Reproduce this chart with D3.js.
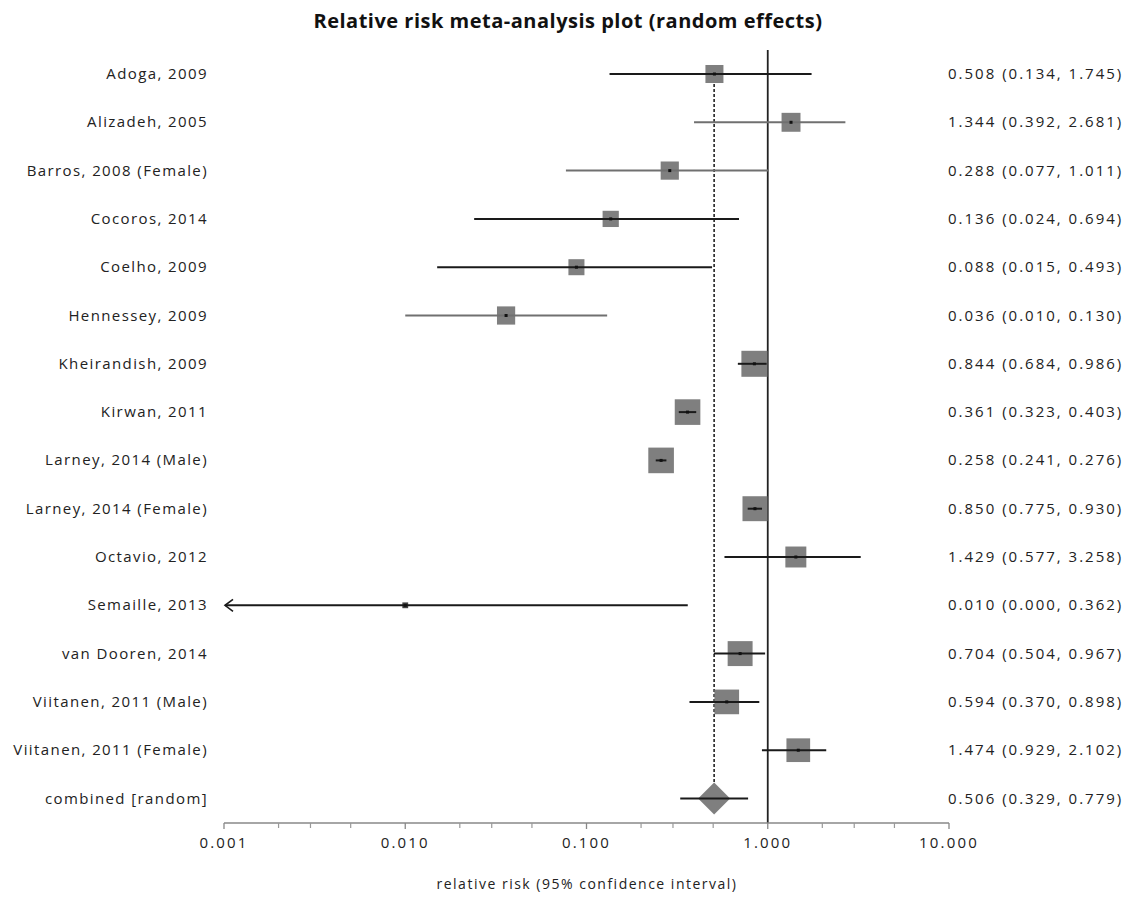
<!DOCTYPE html>
<html><head><meta charset="utf-8">
<script src="https://cdn.jsdelivr.net/npm/d3@7"></script>
<style>body{margin:0;background:#fff}svg{display:block}text{font-family:"Open Sans",sans-serif;fill:#222}</style>
</head><body>
<svg id="c" width="1133" height="897"></svg>
<script>
const studies = ["Adoga, 2009","Alizadeh, 2005","Barros, 2008 (Female)","Cocoros, 2014","Coelho, 2009","Hennessey, 2009","Kheirandish, 2009","Kirwan, 2011","Larney, 2014 (Male)","Larney, 2014 (Female)","Octavio, 2012","Semaille, 2013","van Dooren, 2014","Viitanen, 2011 (Male)","Viitanen, 2011 (Female)"];
const rr    = [0.508,1.344,0.288,0.136,0.088,0.036,0.844,0.361,0.258,0.850,1.429,0.010,0.704,0.594,1.474];
const lower = [0.134,0.392,0.077,0.024,0.015,0.010,0.684,0.323,0.241,0.775,0.577,0.000,0.504,0.370,0.929];
const upper = [1.745,2.681,1.011,0.694,0.493,0.130,0.986,0.403,0.276,0.930,3.258,0.362,0.967,0.898,2.102];
const weights = [4.8,5.3,4.9,3.9,3.8,4.9,10.0,9.7,9.7,9.2,6.5,0.5,9.2,9.0,8.3];
const lineGray = [false,true,true,false,false,true,false,false,false,false,false,false,false,false,false];
const pooledLabel = "combined [random]";
const pooled = {rr:0.506, lower:0.329, upper:0.779};
const tickValues = [0.001,0.01,0.1,1,10];
const minorTicks = [0.002,0.003,0.005,0.02,0.03,0.05,0.2,0.3,0.5,2,3,5];
const title = "Relative risk meta-analysis plot (random effects)";
const xTitle = "relative risk (95% confidence interval)";

const svg = d3.select("#c");
const x = d3.scaleLog().domain([0.001,10]).range([224,949]);
const rows = studies.concat([pooledLabel]);
const y = d3.scalePoint().domain(rows).range([74,798.5]);
const size = d3.scaleSqrt().domain([0,10]).range([0,26]);
const fmt = d3.format(".3f");
const axisY = 823;

svg.append("text").attr("x",568).attr("y",28).attr("text-anchor","middle")
  .style("font-size","20px").style("letter-spacing","0.5px").style("font-weight","bold").style("fill","#111").text(title);

// reference lines
svg.append("line").attr("x1",x(1)).attr("x2",x(1)).attr("y1",50).attr("y2",axisY)
  .attr("stroke","#222").attr("stroke-width",1.8);
svg.append("line").attr("x1",x(pooled.rr)).attr("x2",x(pooled.rr)).attr("y1",y(rows[0])).attr("y2",y(pooledLabel)-16)
  .attr("stroke","#222").attr("stroke-width",1.6).attr("stroke-dasharray","3,2");

// axis
const axisG = svg.append("g").attr("transform",`translate(0,${axisY})`);
axisG.append("line").attr("x1",x(0.001)).attr("x2",x(10)).attr("stroke","#888").attr("stroke-width",1.3);
axisG.selectAll(".maj").data(tickValues).join("line").attr("x1",d=>x(d)).attr("x2",d=>x(d)).attr("y1",0).attr("y2",6).attr("stroke","#888").attr("stroke-width",1.3);
axisG.selectAll(".min").data(minorTicks).join("line").attr("x1",d=>x(d)).attr("x2",d=>x(d)).attr("y1",0).attr("y2",5).attr("stroke","#999").attr("stroke-width",1.2);
axisG.selectAll(".tl").data(tickValues).join("text").attr("x",d=>x(d)).attr("y",25).attr("text-anchor","middle")
  .style("font-size","15px").style("letter-spacing","2.2px").text(d=>fmt(d));
svg.append("text").attr("x",587).attr("y",889).attr("text-anchor","middle").style("font-size","14px").style("letter-spacing","1.5px").text(xTitle);

// study labels
svg.selectAll(".lab").data(rows).join("text").attr("x",208).attr("y",d=>y(d)+5).attr("text-anchor","end")
  .style("font-size","15px").style("letter-spacing","1.4px").text(d=>d);
const rtxt = studies.map((s,i)=>`${fmt(rr[i])} (${fmt(lower[i])}, ${fmt(upper[i])})`).concat([`${fmt(pooled.rr)} (${fmt(pooled.lower)}, ${fmt(pooled.upper)})`]);
svg.selectAll(".rlab").data(rtxt).join("text").attr("x",948).attr("y",(d,i)=>y(rows[i])+5)
  .style("font-size","15px").style("letter-spacing","2px").text(d=>d);

// boxes
const idx = d3.range(studies.length);
svg.selectAll(".box").data(idx).join("rect")
  .attr("x",i=>x(rr[i])-size(weights[i])/2).attr("y",i=>y(studies[i])-size(weights[i])/2)
  .attr("width",i=>size(weights[i])).attr("height",i=>size(weights[i]))
  .attr("fill",i=>weights[i]<1?"#444":"#7f7f7f");
// CI lines
svg.selectAll(".ci").data(idx).join("line")
  .attr("x1",i=>x(Math.max(lower[i],0.001))+(lower[i]<0.001?1:0)).attr("x2",i=>x(upper[i]))
  .attr("y1",i=>y(studies[i])).attr("y2",i=>y(studies[i]))
  .attr("stroke",i=>lineGray[i]?"#707070":"#1a1a1a").attr("stroke-width",2);
// centre dots
svg.selectAll(".dot").data(idx).join("rect")
  .attr("x",i=>x(rr[i])-1.5).attr("y",i=>y(studies[i])-1.5).attr("width",3).attr("height",3).attr("fill","#111");
// arrows for truncated lower limits
idx.filter(i=>lower[i]<0.001).forEach(i=>{
  const ax = x(0.001)+1, ay = y(studies[i]);
  svg.append("path").attr("d",`M${ax+8},${ay-6} L${ax},${ay} L${ax+8},${ay+6}`)
    .attr("fill","none").attr("stroke","#1a1a1a").attr("stroke-width",1.6);
});

// pooled diamond
const py = y(pooledLabel), pc = x(pooled.rr);
svg.append("path").attr("d",`M${pc-16},${py} L${pc},${py-16} L${pc+16},${py} L${pc},${py+16} Z`).attr("fill","#7f7f7f");
svg.append("line").attr("x1",x(pooled.lower)).attr("x2",x(pooled.upper)).attr("y1",py).attr("y2",py)
  .attr("stroke","#1a1a1a").attr("stroke-width",2);
</script>
</body></html>
